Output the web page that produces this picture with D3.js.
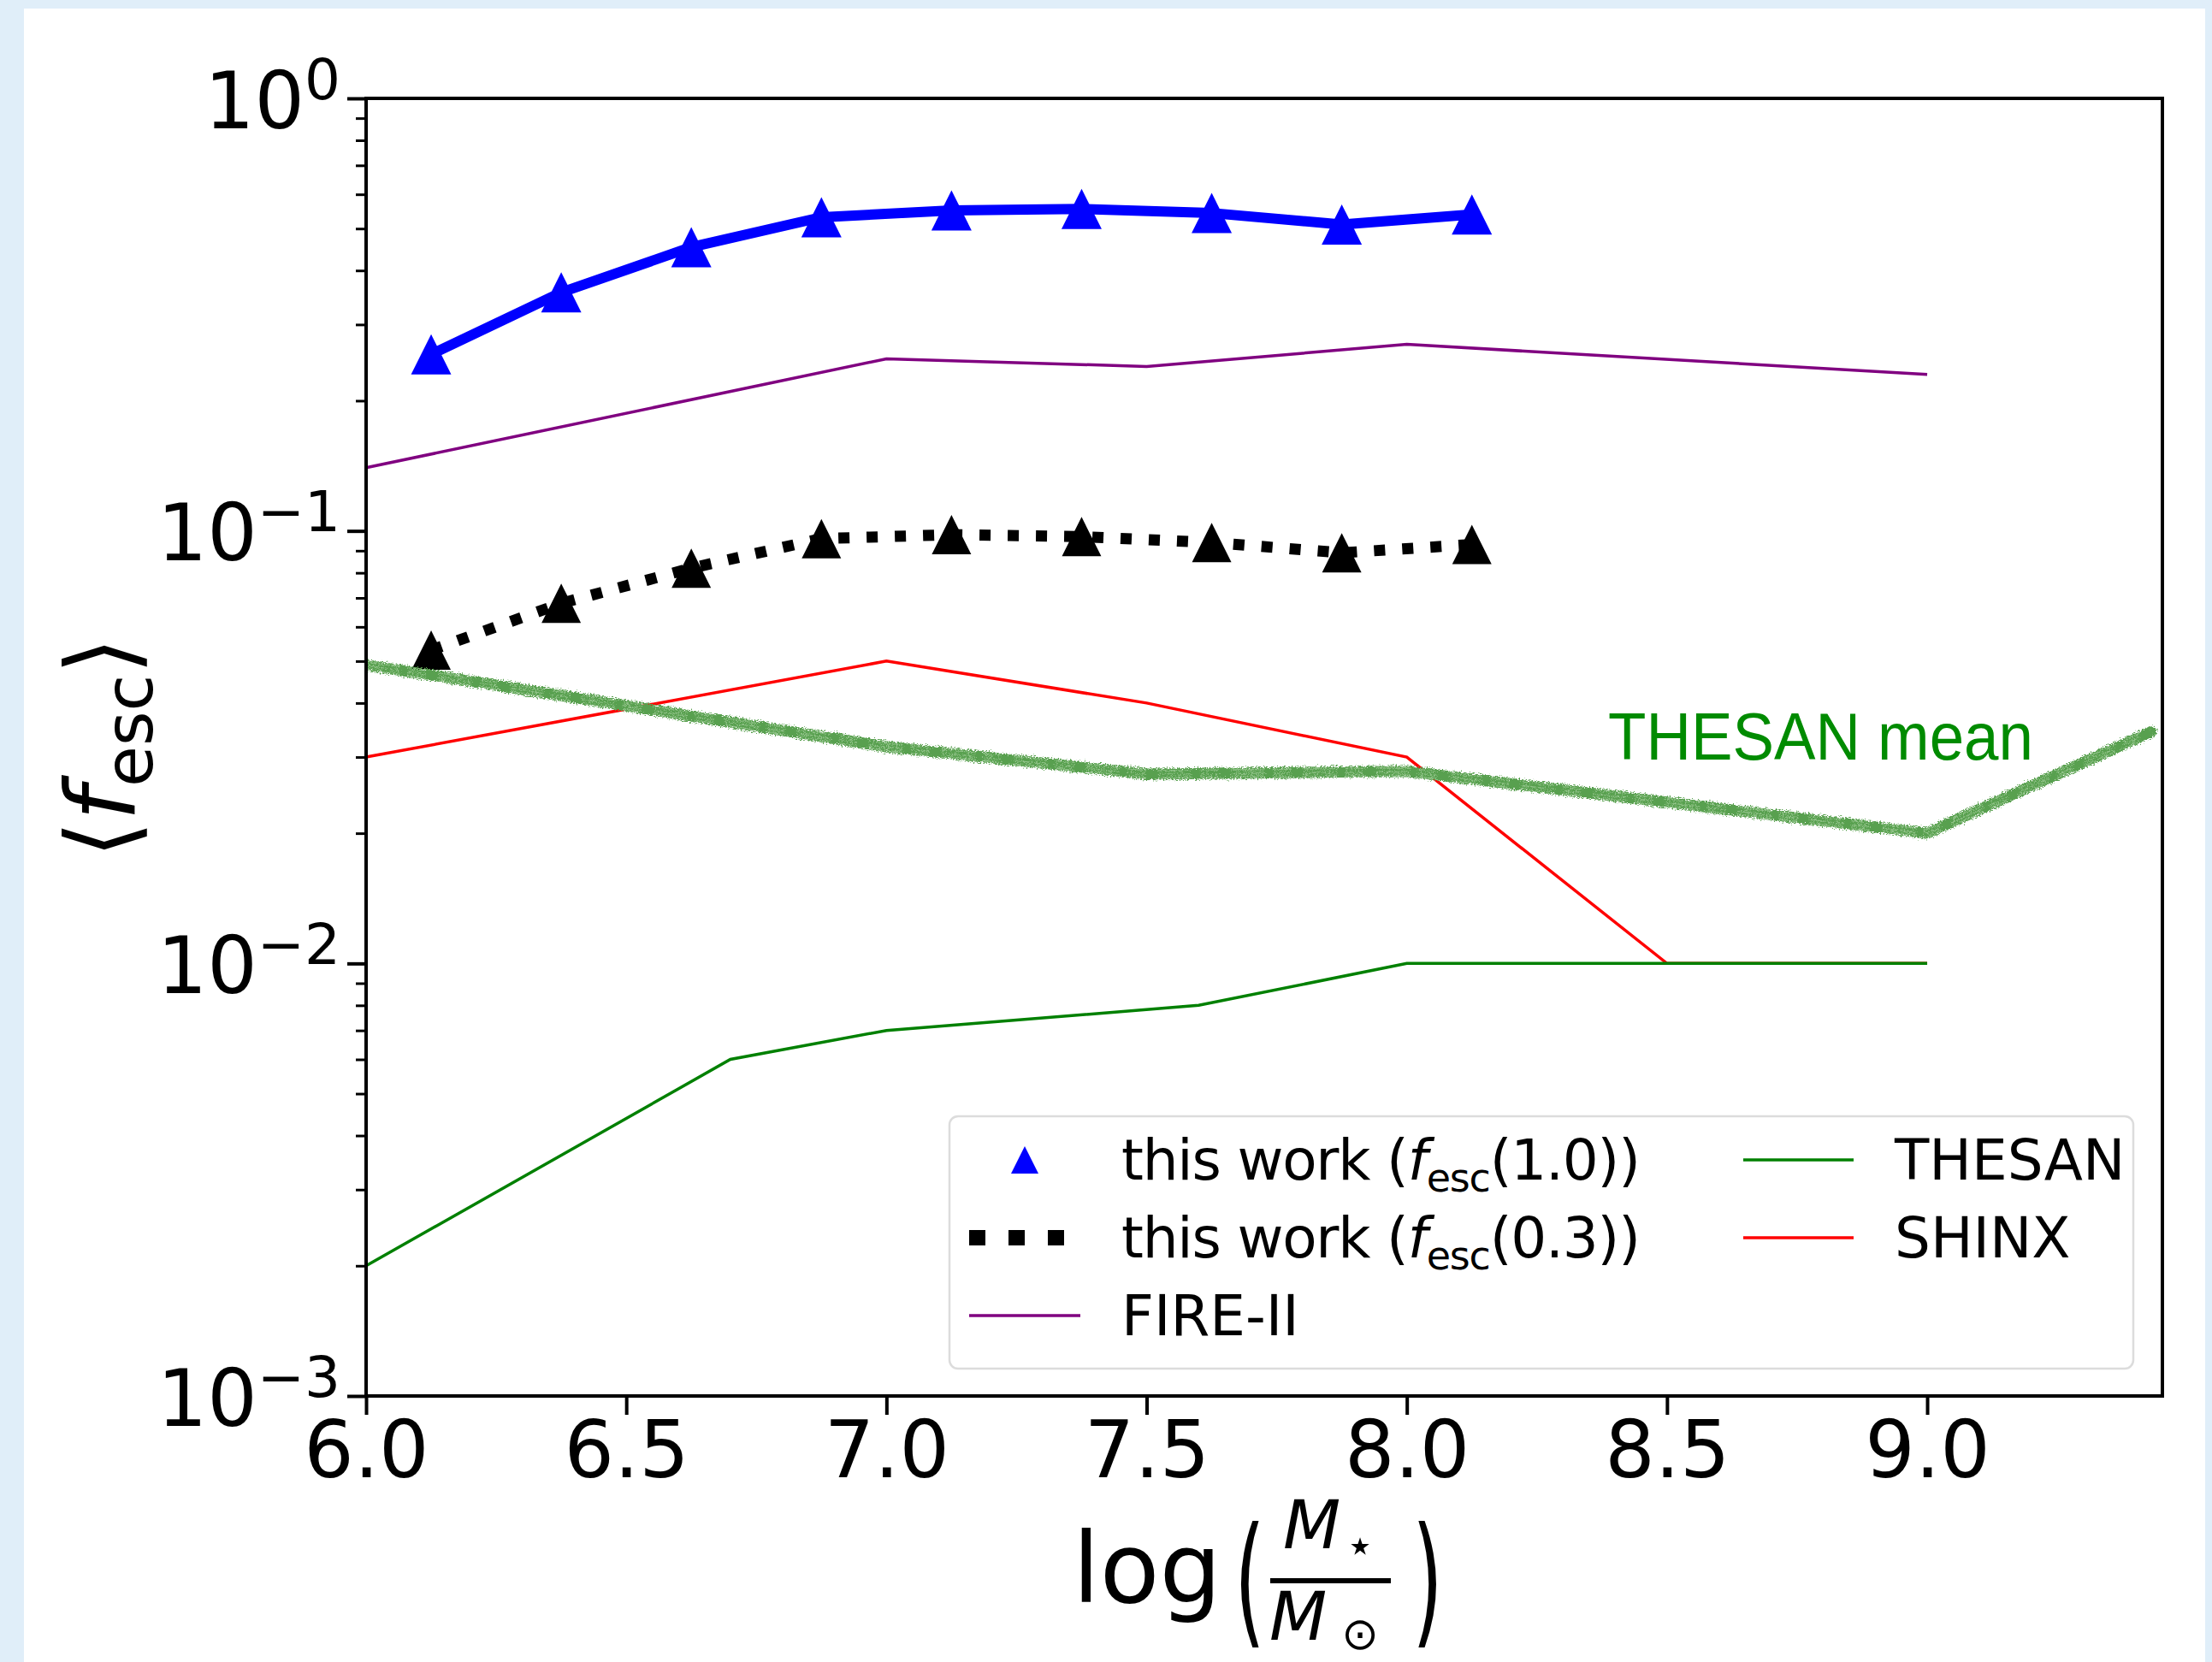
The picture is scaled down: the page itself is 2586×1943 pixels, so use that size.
<!DOCTYPE html>
<html>
<head>
<meta charset="utf-8">
<script src="https://cdn.jsdelivr.net/npm/d3@7"></script>
<style>
  html, body { margin: 0; padding: 0; background: #e0eef9; }
  svg { display: block; }
</style>
</head>
<body>
<svg id="chart" width="2586" height="1943"></svg>
<script>
// ---- data -------------------------------------------------------------
// stellar-mass bins, log(M*/Msun), for the two runs of this work
const massBins   = [6.125, 6.375, 6.625, 6.875, 7.125, 7.375, 7.625, 7.875, 8.125];
const fescFull   = [0.256, 0.356, 0.453, 0.531, 0.551, 0.555, 0.543, 0.511, 0.539];
const fescLow    = [0.053, 0.068, 0.082, 0.096, 0.098, 0.097, 0.094, 0.089, 0.093];

const fireMass   = [6.0, 7.0, 7.5, 8.0, 9.0];
const fireFesc   = [0.14, 0.25, 0.24, 0.27, 0.23];

const shinxMass  = [6.0, 7.0, 7.5, 8.0, 8.5, 9.0];
const shinxFesc  = [0.03, 0.05, 0.04, 0.03, 0.01, 0.01];

const thesanMass = [6.0, 6.7, 7.0, 7.6, 8.0, 9.0];
const thesanFesc = [0.002, 0.006, 0.007, 0.008, 0.01, 0.01];

const thesanMeanMass = [6.0, 7.0, 7.5, 8.0, 9.0, 9.43];
const thesanMeanFesc = [0.049, 0.0317, 0.0274, 0.0278, 0.020, 0.0343];

const xTicks   = [6.0, 6.5, 7.0, 7.5, 8.0, 8.5, 9.0];
const yTicks   = [1, 0.1, 0.01, 0.001];
const yTickExp = ["0", "\u22121", "\u22122", "\u22123"];

const legendLeft  = ["this work (1.0)", "this work (0.3)", "FIRE-II"];
const legendRight = ["THESAN", "SHINX"];

// ---- layout -----------------------------------------------------------
const W = 2586, H = 1943;
const L = 428, R = 2528, T = 115, B = 1632;
const FONT = "'DejaVu Sans', sans-serif";

const svg = d3.select("#chart");

const defs = svg.append("defs");
// rough, brush-like edge for the THESAN mean stroke
const brush = defs.append("filter").attr("id", "brush")
  .attr("filterUnits", "userSpaceOnUse")
  .attr("x", L).attr("y", T).attr("width", R - L).attr("height", B - T);
brush.append("feTurbulence").attr("type", "fractalNoise")
  .attr("baseFrequency", "0.5 1.1").attr("numOctaves", 2).attr("seed", 7).attr("result", "n");
brush.append("feDisplacementMap").attr("in", "SourceGraphic").attr("in2", "n")
  .attr("scale", 9).attr("xChannelSelector", "R").attr("yChannelSelector", "G");

// white page panel
svg.append("rect").attr("x", 28).attr("y", 10).attr("width", 2550).attr("height", H - 10)
  .attr("fill", "#ffffff");

const x = d3.scaleLinear().domain([6, 9.452]).range([L, R]);
const y = d3.scaleLog().domain([1e-3, 1]).range([B, T]);

const line = d3.line().x(d => x(d[0])).y(d => y(d[1]));
const pairs = (xs, ys) => xs.map((v, i) => [v, ys[i]]);

// matplotlib-style "^" marker: isoceles triangle centred on its bounding box
const triUp = {
  draw(ctx, size) {
    const s = Math.sqrt(size) / 2;
    ctx.moveTo(0, -s); ctx.lineTo(s, s); ctx.lineTo(-s, s); ctx.closePath();
  }
};
const tri = d3.symbol().type(triUp);

const plot = svg.append("g");

// comparison simulations
plot.append("path").attr("d", line(pairs(fireMass, fireFesc)))
  .attr("fill", "none").attr("stroke", "#800080").attr("stroke-width", 3.5);
plot.append("path").attr("d", line(pairs(shinxMass, shinxFesc)))
  .attr("fill", "none").attr("stroke", "#ff0000").attr("stroke-width", 3.5);
plot.append("path").attr("d", line(pairs(thesanMass, thesanFesc)))
  .attr("fill", "none").attr("stroke", "#008000").attr("stroke-width", 3.5);

// this work, fesc(1.0)
const full = pairs(massBins, fescFull);
plot.append("path").attr("d", line(full))
  .attr("fill", "none").attr("stroke", "#0000ff").attr("stroke-width", 12)
  .attr("stroke-linejoin", "round");
plot.selectAll(".mFull").data(full).enter().append("path")
  .attr("transform", d => `translate(${x(d[0])},${y(d[1])})`)
  .attr("d", tri.size(47 * 47)()).attr("fill", "#0000ff");

// this work, fesc(0.3)
const low = pairs(massBins, fescLow);
plot.append("path").attr("d", line(low))
  .attr("fill", "none").attr("stroke", "#000").attr("stroke-width", 13)
  .attr("stroke-dasharray", "13,20");
plot.selectAll(".mLow").data(low).enter().append("path")
  .attr("transform", d => `translate(${x(d[0])},${y(d[1])})`)
  .attr("d", tri.size(46 * 46)()).attr("fill", "#000");

// THESAN mean, drawn as a brushed stroke
const meanPts = pairs(thesanMeanMass, thesanMeanFesc);
const mean = plot.append("g").attr("filter", "url(#brush)");
mean.append("path").attr("d", line(meanPts))
  .attr("fill", "none").attr("stroke", "#59a04f").attr("stroke-width", 13)
  .attr("stroke-linejoin", "round").attr("stroke-linecap", "round");
[-4, 0.5, 4.5].forEach(off => {
  mean.append("path").attr("d", line(meanPts)).attr("transform", `translate(0,${off})`)
    .attr("fill", "none").attr("stroke", "#b5dbaf").attr("stroke-width", 1.4)
    .attr("stroke-opacity", 0.6).attr("stroke-dasharray", "40,9,22,14");
});

svg.append("text").attr("x", 1880).attr("y", 888)
  .attr("textLength", 497).attr("lengthAdjust", "spacingAndGlyphs")
  .style("font-family", "'Liberation Sans', Arial, sans-serif").style("font-size", "77px")
  .attr("fill", "#008b00").text("THESAN mean");

// ---- axes -------------------------------------------------------------
const xAxis = svg.append("g").attr("transform", `translate(0,${B})`)
  .call(d3.axisBottom(x).tickValues(xTicks).tickSize(22).tickSizeOuter(0).tickPadding(8)
    .tickFormat(d3.format(".1f")));
xAxis.select(".domain").remove();
xAxis.selectAll("line").attr("stroke", "#000").attr("stroke-width", 4);
xAxis.selectAll("text").style("font-family", FONT).style("font-size", "92px").attr("fill", "#000");

const minor = [];
[1e-3, 1e-2, 1e-1].forEach(dec => { for (let k = 2; k <= 9; k++) minor.push(dec * k); });
const yMinor = svg.append("g").attr("transform", `translate(${L},0)`)
  .call(d3.axisLeft(y).tickValues(minor).tickSize(12).tickSizeOuter(0).tickFormat(""));
yMinor.select(".domain").remove();
yMinor.selectAll("line").attr("stroke", "#000").attr("stroke-width", 3);

const yAxis = svg.append("g").attr("transform", `translate(${L},0)`)
  .call(d3.axisLeft(y).tickValues(yTicks).tickSize(22).tickSizeOuter(0).tickFormat(""));
yAxis.select(".domain").remove();
yAxis.selectAll("line").attr("stroke", "#000").attr("stroke-width", 4);
yAxis.selectAll(".tick").each(function (d) {
  const t = d3.select(this).append("text")
    .attr("x", -30).attr("y", 34).attr("text-anchor", "end")
    .style("font-family", FONT).style("font-size", "92px").attr("fill", "#000");
  t.append("tspan").text("10");
  t.append("tspan").attr("dy", -34).style("font-size", "66px").text(yTickExp[yTicks.indexOf(d)]);
});

// frame
svg.append("rect").attr("x", L).attr("y", T).attr("width", R - L).attr("height", B - T)
  .attr("fill", "none").attr("stroke", "#000").attr("stroke-width", 4);

// ---- axis titles ------------------------------------------------------
const yl = svg.append("text").attr("transform", "translate(157,874) rotate(-90)")
  .attr("text-anchor", "middle").style("font-family", FONT).style("font-size", "112px")
  .attr("fill", "#000");
yl.append("tspan").text("\u27E8");
yl.append("tspan").style("font-style", "italic").text("f");
yl.append("tspan").attr("dy", 21).style("font-size", "78px").text("esc");
yl.append("tspan").attr("dy", -21).text("\u27E9");

const xl = svg.append("g").style("font-family", FONT).attr("fill", "#000");
xl.append("text").attr("x", 1254).attr("y", 1873).style("font-size", "114px").text("log");
xl.append("text").attr("transform", "translate(1461,1904) scale(1.15,2.07)")
  .attr("text-anchor", "middle").style("font-size", "80px").text("(");
xl.append("text").attr("transform", "translate(1669,1904) scale(1.15,2.07)")
  .attr("text-anchor", "middle").style("font-size", "80px").text(")");
xl.append("text").attr("x", 1500).attr("y", 1810).style("font-size", "78px")
  .style("font-style", "italic").text("M");
xl.append("text").attr("x", 1590).attr("y", 1806).attr("text-anchor", "middle")
  .attr("dominant-baseline", "central").style("font-size", "56px").text("\u22C6");
xl.append("line").attr("x1", 1485).attr("x2", 1626).attr("y1", 1848).attr("y2", 1848)
  .attr("stroke", "#000").attr("stroke-width", 6);
xl.append("text").attr("x", 1484).attr("y", 1917).style("font-size", "78px")
  .style("font-style", "italic").text("M");
xl.append("text").attr("x", 1590).attr("y", 1910).attr("text-anchor", "middle")
  .attr("dominant-baseline", "central").style("font-size", "52px").text("\u2299");

// ---- legend -----------------------------------------------------------
const lg = svg.append("g");
lg.append("rect").attr("x", 1110).attr("y", 1305).attr("width", 1384).attr("height", 295)
  .attr("rx", 10).attr("fill", "#ffffff").attr("fill-opacity", 0.85)
  .attr("stroke", "#dcdcdc").attr("stroke-width", 2.5);

const rows = [1356, 1447, 1538];
const c1h = [1133, 1263], c1t = 1311;
const c2h = [2038, 2167], c2t = 2215;

lg.append("path").attr("transform", `translate(${(c1h[0] + c1h[1]) / 2},${rows[0]})`)
  .attr("d", tri.size(32 * 32)()).attr("fill", "#0000ff");
lg.append("line").attr("x1", c1h[0]).attr("x2", c1h[1]).attr("y1", rows[1]).attr("y2", rows[1])
  .attr("stroke", "#000").attr("stroke-width", 18).attr("stroke-dasharray", "19,27");
lg.append("line").attr("x1", c1h[0]).attr("x2", c1h[1]).attr("y1", rows[2]).attr("y2", rows[2])
  .attr("stroke", "#800080").attr("stroke-width", 3.5);
lg.append("line").attr("x1", c2h[0]).attr("x2", c2h[1]).attr("y1", rows[0]).attr("y2", rows[0])
  .attr("stroke", "#008000").attr("stroke-width", 3.5);
lg.append("line").attr("x1", c2h[0]).attr("x2", c2h[1]).attr("y1", rows[1]).attr("y2", rows[1])
  .attr("stroke", "#ff0000").attr("stroke-width", 3.5);

function legendText(xp, yp) {
  return lg.append("text").attr("x", xp).attr("y", yp + 23)
    .style("font-family", FONT).style("font-size", "66px").attr("fill", "#000");
}
legendLeft.forEach((lab, i) => {
  const t = legendText(c1t, rows[i]);
  const m = lab.match(/^this work \((.*)\)$/);
  if (m) {
    t.style("letter-spacing", "-1.2px");
    t.append("tspan").text("this work (");
    t.append("tspan").style("font-style", "italic").text("f");
    t.append("tspan").attr("dy", 14).style("font-size", "46px").text("esc");
    t.append("tspan").attr("dy", -14).text("(" + m[1] + "))");
  } else {
    t.text(lab);
  }
});
legendRight.forEach((lab, i) => legendText(c2t, rows[i]).text(lab));
</script>
</body>
</html>
